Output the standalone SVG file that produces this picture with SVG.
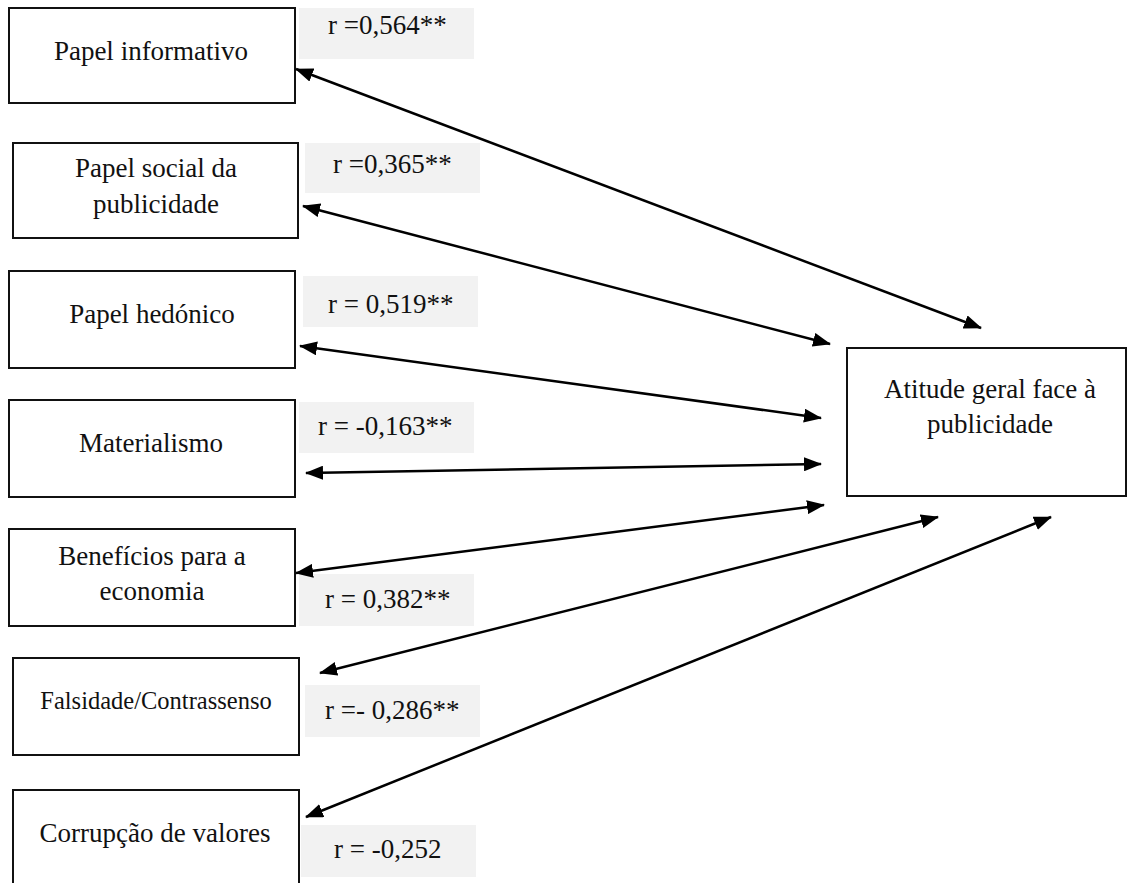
<svg xmlns="http://www.w3.org/2000/svg" width="1127" height="883" viewBox="0 0 1127 883">
<style>
.box{fill:#fff;stroke:#111;stroke-width:2}
.lbl{fill:#f2f2f2;stroke:none}
.t{font-family:"Liberation Serif","Times New Roman",serif;font-size:27px;fill:#111}
.c{text-anchor:middle}
.s{font-size:24.5px}
.con{stroke:#000;stroke-width:2.5;fill:none;marker-start:url(#ah);marker-end:url(#ah)}
</style>
<defs>
<marker id="ah" viewBox="0 0 18 14" refX="17" refY="7" markerWidth="18" markerHeight="14" markerUnits="userSpaceOnUse" orient="auto-start-reverse">
<path d="M0,0 L18,7 L0,14 z" fill="#000"/>
</marker>
</defs>
<rect width="1127" height="883" fill="#fff"/>
<g id="n1">
<rect class="box" x="9" y="8" width="286" height="95"/>
<text class="t c" x="151" y="60">Papel informativo</text>
</g>
<g id="l1"><rect class="lbl" x="299" y="8" width="175" height="51"/><text class="t" x="328" y="34">r =0,564**</text></g>
<g id="n2">
<rect class="box" x="13" y="143" width="285" height="95"/>
<text class="t c" x="156" y="177">Papel social da</text>
<text class="t c" x="156" y="213">publicidade</text>
</g>
<g id="l2"><rect class="lbl" x="305" y="143" width="175" height="50"/><text class="t" x="333" y="173">r =0,365**</text></g>
<g id="n3">
<rect class="box" x="9" y="271" width="286" height="97"/>
<text class="t c" x="152" y="323">Papel hedónico</text>
</g>
<g id="l3"><rect class="lbl" x="303" y="276" width="175" height="51"/><text class="t" x="328" y="313">r = 0,519**</text></g>
<g id="n4">
<rect class="box" x="9" y="400" width="286" height="97"/>
<text class="t c" x="151" y="452">Materialismo</text>
</g>
<g id="l4"><rect class="lbl" x="299" y="402" width="175" height="51"/><text class="t" x="318" y="435">r = -0,163**</text></g>
<g id="n5">
<rect class="box" x="9" y="529" width="286" height="97"/>
<text class="t c" x="152" y="565">Benefícios para a</text>
<text class="t c" x="152" y="600">economia</text>
</g>
<g id="l5"><rect class="lbl" x="299" y="574" width="175" height="52"/><text class="t" x="325" y="608">r = 0,382**</text></g>
<g id="n6">
<rect class="box" x="13" y="658" width="286" height="97"/>
<text class="t c s" x="156" y="709">Falsidade/Contrassenso</text>
</g>
<g id="l6"><rect class="lbl" x="305" y="685" width="175" height="52"/><text class="t" x="325" y="719">r =- 0,286**</text></g>
<g id="n7">
<rect class="box" x="13" y="790" width="286" height="110"/>
<text class="t c" x="155" y="842">Corrupção de valores</text>
</g>
<g id="l7"><rect class="lbl" x="301" y="825" width="175" height="52"/><text class="t" x="334" y="858">r = -0,252</text></g>
<g id="target">
<rect class="box" x="847" y="348" width="279" height="148"/>
<text class="t c" x="990" y="398">Atitude geral face à</text>
<text class="t c" x="990" y="433">publicidade</text>
</g>
<g id="connectors">
<line class="con" x1="296" y1="69" x2="981" y2="328"/>
<line class="con" x1="303" y1="206" x2="830" y2="344"/>
<line class="con" x1="300" y1="346" x2="821" y2="418"/>
<line class="con" x1="306" y1="473" x2="821" y2="464"/>
<line class="con" x1="296" y1="573" x2="824" y2="505"/>
<line class="con" x1="320" y1="673" x2="938" y2="517"/>
<line class="con" x1="306" y1="817" x2="1051" y2="517"/>
</g>
</svg>
